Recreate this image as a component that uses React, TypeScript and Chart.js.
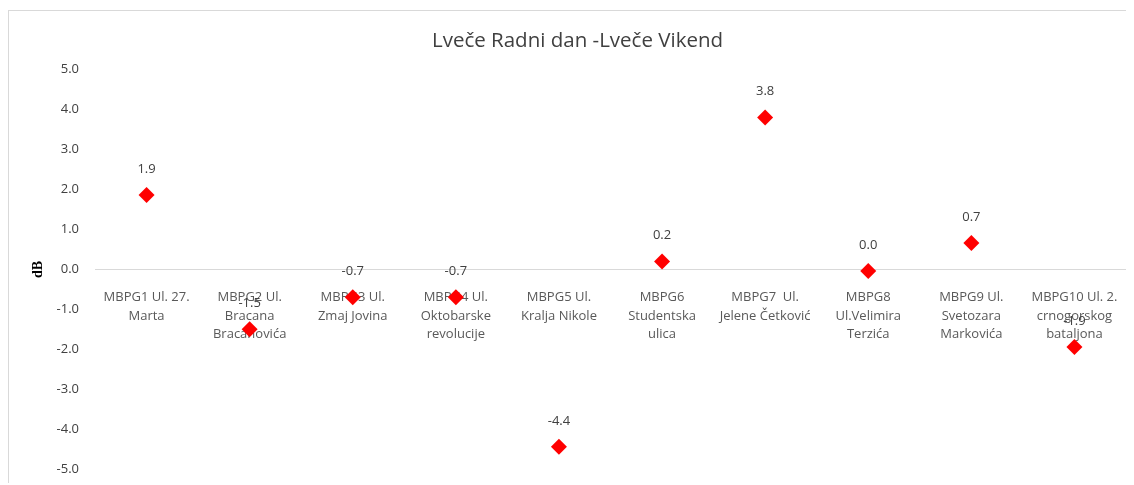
import React, { useEffect, useRef } from "react";
import { Chart, registerables } from "chart.js";

Chart.register(...registerables);

const chartTitle = "Lveče Radni dan -Lveče Vikend";
const yAxisTitle = "dB";
const categories: string[][] = [
  ["MBPG1 Ul. 27.", "Marta"],
  ["MBPG2 Ul.", "Bracana", "Bracanovića"],
  ["MBPG3 Ul.", "Zmaj Jovina"],
  ["MBPG4 Ul.", "Oktobarske", "revolucije"],
  ["MBPG5 Ul.", "Kralja Nikole"],
  ["MBPG6", "Studentska", "ulica"],
  ["MBPG7  Ul.", "Jelene Četković"],
  ["MBPG8", "Ul.Velimira", "Terzića"],
  ["MBPG9 Ul.", "Svetozara", "Markovića"],
  ["MBPG10 Ul. 2.", "crnogorskog", "bataljona"],
];
const differences: number[] = [1.86, -1.5, -0.7, -0.7, -4.44, 0.2, 3.8, -0.04, 0.66, -1.94];
const yMin = -5;
const yMax = 5;
const yStep = 1;

const fmt = (v: number) => {
  const r = Math.round(v * 10) / 10;
  return (r === 0 ? 0 : r).toFixed(1);
};

const valueLabels = {
  id: "valueLabels",
  afterDatasetsDraw(chart: any) {
    const ctx = chart.ctx;
    const meta = chart.getDatasetMeta(0);
    const data = chart.data.datasets[0].data as number[];
    ctx.save();
    ctx.font = "13px 'Open Sans', sans-serif";
    ctx.fillStyle = "#404040";
    ctx.textAlign = "center";
    ctx.textBaseline = "middle";
    meta.data.forEach((pt: any, i: number) => {
      ctx.fillText(fmt(data[i]), pt.x, pt.y - 26);
    });
    ctx.restore();
  },
};

const titleText = {
  id: "titleText",
  afterDraw(chart: any) {
    const ctx = chart.ctx;
    ctx.save();
    ctx.font = "20.5px 'Open Sans', sans-serif";
    ctx.fillStyle = "#404040";
    ctx.textAlign = "center";
    ctx.textBaseline = "middle";
    ctx.fillText(chartTitle, chart.width / 2 + 6, 30);
    ctx.restore();
  },
};

export default function App() {
  const ref = useRef<HTMLCanvasElement | null>(null);
  useEffect(() => {
    if (!ref.current) return;
    const chart = new Chart(ref.current, {
      type: "line",
      data: {
        labels: categories,
        datasets: [
          {
            data: differences,
            showLine: false,
            pointStyle: "rectRot",
            pointRadius: 8,
            pointHoverRadius: 8,
            backgroundColor: "#ff0000",
            borderColor: "#ff0000",
            pointBorderWidth: 0,
          },
        ],
      },
      options: {
        animation: false,
        responsive: true,
        maintainAspectRatio: false,
        layout: { padding: { left: 0, right: 0, top: 58.6, bottom: 7 } },
        plugins: {
          legend: { display: false },
          tooltip: { enabled: false },
          title: { display: false },
        },
        scales: {
          x: {
            type: "category",
            offset: true,
            position: { y: 0 } as any,
            grid: { display: false },
            border: { display: true, color: "#d9d9d9", width: 1 },
            ticks: {
              color: "#595959",
              font: { family: "'Open Sans', sans-serif", size: 13, lineHeight: 1.42 },
              padding: 11,
              maxRotation: 0,
              autoSkip: false,
            },
          },
          y: {
            min: yMin,
            max: yMax,
            grid: { display: false },
            border: { display: false },
            afterFit(scale: any) {
              scale.width = 86;
            },
            ticks: {
              stepSize: yStep,
              color: "#404040",
              font: { family: "'Open Sans', sans-serif", size: 13 },
              padding: 8,
              callback: (v: any) => Number(v).toFixed(1),
            },
            title: {
              display: true,
              text: yAxisTitle,
              color: "#000000",
              font: { family: "'Liberation Serif', serif", size: 14, weight: "bold" },
              padding: { top: 21, bottom: 0 },
            },
          },
        },
      },
      plugins: [valueLabels, titleText],
    });
    return () => chart.destroy();
  }, []);
  return (
    <div
      style={{
        position: "relative",
        top: 2,
        width: 1126,
        height: 475,
        borderTop: "1px solid #d9d9d9",
        borderLeft: "1px solid #d9d9d9",
        boxSizing: "border-box",
        background: "#ffffff",
      }}
    >
      <canvas ref={ref} />
    </div>
  );
}
